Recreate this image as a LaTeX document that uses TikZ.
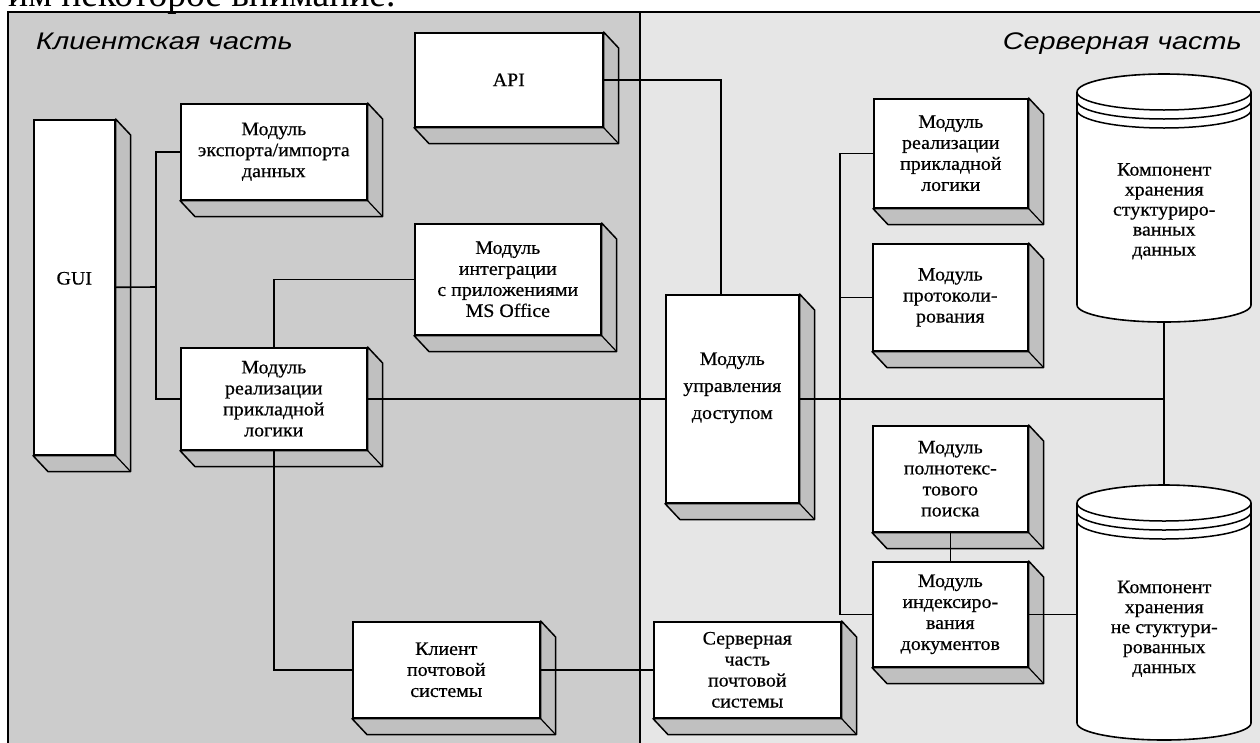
\documentclass[tikz,border=0pt]{standalone}
\usepackage{fontspec}
\setmainfont{Liberation Serif}
\newfontfamily\boxfont[FakeStretch=1.05,FakeBold=0.5]{Liberation Serif}
\newfontfamily\titlefont[FakeStretch=1.2]{Liberation Sans}
\newfontfamily\pagefont{Liberation Serif}
\usetikzlibrary{calc}
\pgfdeclarelayer{bglayer}
\pgfdeclarelayer{shadowlayer}
\pgfdeclarelayer{frontlayer}
\pgfsetlayers{bglayer,shadowlayer,main,frontlayer}
\definecolor{clientbg}{RGB}{204,204,204}
\definecolor{serverbg}{RGB}{230,230,230}
\definecolor{sidegray}{RGB}{192,192,192}
\tikzset{
  x=1pt, y=-1pt,
  conn/.style={line width=1.6pt, black},
  face/.style={draw=black, line width=1.6pt, fill=white, inner sep=0pt, anchor=north west},
  sideface/.style={fill=sidegray, draw=black, line width=1.5pt, line join=round},
  boxtext/.style={align=center, inner sep=0pt, font=\boxfont\fontsize{19}{21}\selectfont},
  titletext/.style={font=\titlefont\itshape\fontsize{24}{26}\selectfont, inner sep=0pt},
}
% \mybox{name}{x1}{y1}{x2}{y2}{text yshift (up)}{text}
\newcommand{\mybox}[7]{%
  \begin{pgfonlayer}{frontlayer}
    \node[face, minimum width={(#4-#2)*1pt}, minimum height={(#5-#3)*1pt}] (#1) at (#2,#3) {};
    \node[boxtext] (#1-t) at ([yshift=#6pt]#1.center) {#7};
  \end{pgfonlayer}
  \begin{pgfonlayer}{shadowlayer}
    \filldraw[sideface] (#1.north east) -- ([shift={(15,16)}]#1.north east)
      -- ([shift={(15,16)}]#1.south east) -- ([shift={(15,16)}]#1.south west)
      -- (#1.south west) -- (#1.south east) -- cycle;
    \draw[line width=1.2pt] (#1.south east) -- ([shift={(15,16)}]#1.south east);
  \end{pgfonlayer}
}
% \mycyl{name}{x1}{x2}{ytop}{ybottom}{text shift (up)}{text}
\newcommand{\mycyl}[7]{%
  \begin{pgfonlayer}{frontlayer}
    \node[draw=none, inner sep=0pt, anchor=north west, minimum width={(#3-#2)*1pt}, minimum height={(#5-#4)*1pt}] (#1) at (#2,#4) {};
    \filldraw[fill=white, draw=black, line width=1.6pt]
      (#2,#4+18) -- (#2,#5-17) arc[start angle=180, end angle=360, x radius={(#3-#2)/2*1pt}, y radius=17pt]
      -- (#3,#4+18) arc[start angle=0, end angle=180, x radius={(#3-#2)/2*1pt}, y radius=18pt] -- cycle;
    \draw[line width=1.5pt] (#2,#4+18) arc[start angle=180, end angle=360, x radius={(#3-#2)/2*1pt}, y radius=18pt];
    \draw[line width=1.5pt] (#2,#4+27) arc[start angle=180, end angle=360, x radius={(#3-#2)/2*1pt}, y radius=18pt];
    \draw[line width=1.5pt] (#2,#4+36) arc[start angle=180, end angle=360, x radius={(#3-#2)/2*1pt}, y radius=18pt];
    \node[boxtext, font=\boxfont\fontsize{19}{20}\selectfont] (#1-t) at ([yshift=#6pt]#1.center) {#7};
  \end{pgfonlayer}
}
\begin{document}
\begin{tikzpicture}
\useasboundingbox (0,0) rectangle (1260,742);
\clip (0,0) rectangle (1260,742);
% page text line cut off above the figure
\node[anchor=base west, inner sep=0pt, font=\pagefont\fontsize{37.5}{40}\selectfont] (pageline) at (8,6) {им некоторое внимание.};
% regions
\begin{pgfonlayer}{bglayer}
  \fill[clientbg] (8,12) rectangle (640,760);
  \fill[serverbg] (640,12) rectangle (1262,760);
\end{pgfonlayer}
\draw[line width=2pt] (8,760) -- (8,12) -- (1262,12);
\draw[line width=1.8pt] (640,12) -- (640,760);
\node[titletext, anchor=base west] (clienttitle) at (36,49) {Клиентская часть};
\node[titletext, anchor=base east] (servertitle) at (1242,49) {Серверная часть};

% client boxes
\mybox{gui}{33}{119}{114}{454}{9}{GUI}
\mybox{api}{414}{32}{602}{126}{0}{API}
\mybox{export}{180}{103}{366}{199}{0}{Модуль\\экспорта/импорта\\данных}
\mybox{integ}{414}{223}{600}{334}{0}{Модуль\\интеграции\\с приложениями\\MS Office}
\mybox{clogic}{180}{347}{366}{449}{0}{Модуль\\реализации\\прикладной\\логики}
\mybox{mailc}{352}{621}{539}{717}{0}{Клиент\\почтовой\\системы}
% server boxes
\mybox{access}{665}{294}{798}{502}{11}{Модуль\\[6pt]управления\\[6pt]доступом}
\mybox{slogic}{873}{98}{1027}{207}{0}{Модуль\\реализации\\прикладной\\логики}
\mybox{proto}{872}{243}{1027}{350}{0}{Модуль\\протоколи-\\рования}
\mybox{search}{872}{425}{1027}{531}{0}{Модуль\\полнотекс-\\тового\\поиска}
\mybox{index}{872}{561}{1027}{666}{0}{Модуль\\индексиро-\\вания\\документов}
\mybox{mails}{653}{621}{840}{717}{0}{Серверная\\часть\\почтовой\\системы}
% cylinders
\mycyl{cyl1}{1077}{1251}{74}{322}{-13}{Компонент\\хранения\\стуктуриро-\\ванных\\данных}
\mycyl{cyl2}{1077}{1251}{485}{740}{-16}{Компонент\\хранения\\не стуктури-\\рованных\\данных}

% connectors
\coordinate (busL) at (156,287);
\coordinate (sbus) at (840,398);
\draw[conn] (gui.east) -- (busL);
\draw[conn] (export.west) -| (busL) |- (clogic.west);
\draw[conn] (integ.west) -| (clogic.north);
\draw[conn] (clogic.south) |- (mailc.west);
\draw[conn] (mailc.east) -- (mails.west);
\draw[conn] (api.east) -| ([xshift=56pt]access.north west);
\draw[conn] (clogic.east) -- (clogic.east -| access.west);
\draw[conn] (clogic.east -| access.east) -- (clogic.east -| cyl1.south);
\draw[conn] (cyl1.south) -- (cyl2.north);
\draw[conn] (slogic.west) -| (sbus) |- (index.west);
\draw[conn] (proto.west) -| (sbus);
\draw[conn] (search.south) -- (index.north);
\draw[conn] (index.east) -- (index.east -| cyl2.west);
\end{tikzpicture}
\end{document}
